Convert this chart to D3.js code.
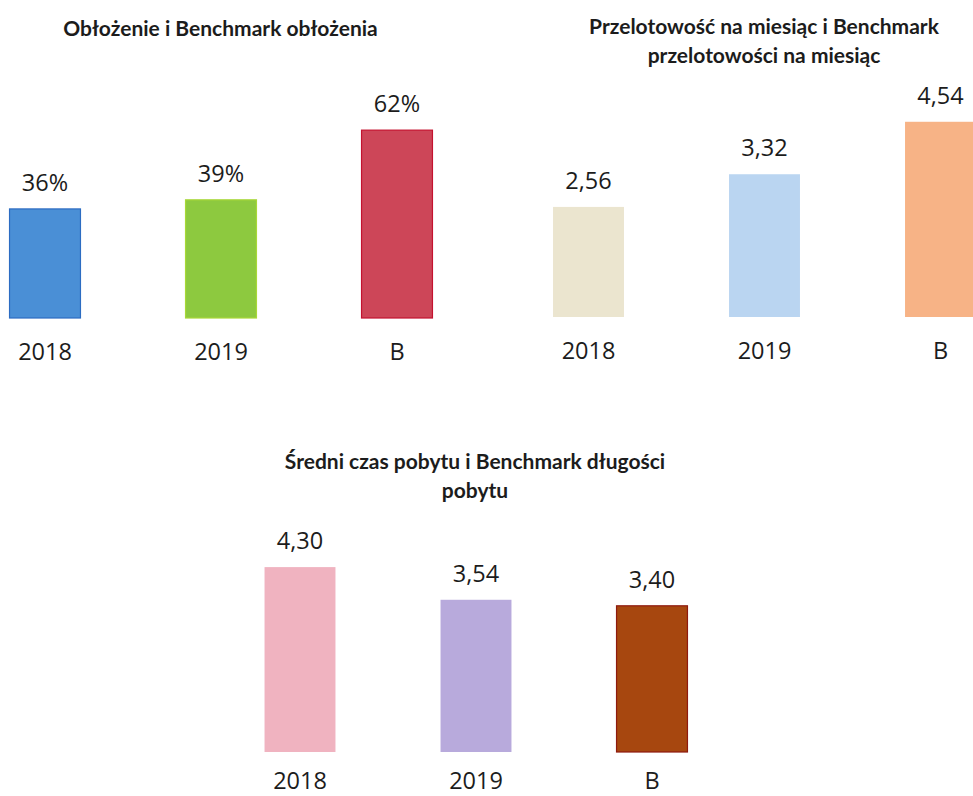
<!DOCTYPE html>
<html lang="pl">
<head>
<meta charset="utf-8">
<title>Obłożenie, przelotowość i czas pobytu</title>
<script src="https://cdn.jsdelivr.net/npm/d3@7"></script>
<style>
  html, body { margin: 0; padding: 0; background: #fff; }
  svg { display: block; }
  .title { font-family: Lato, "Open Sans", sans-serif; font-weight: 700; font-size: 21px; fill: #1c1c1c; }
  .value, .cat { font-family: "Open Sans", "DejaVu Sans", sans-serif; font-size: 23.5px; fill: #1c1c1c; }
</style>
</head>
<body>
<svg id="chart" width="973" height="796"></svg>
<script>
// Categories shared by the three small bar charts
const categories = ["2018", "2019", "B"];

// Obłożenie (%)
const occupancyValues = [36, 39, 62];
// Przelotowość na miesiąc
const throughputValues = [2.56, 3.32, 4.54];
// Średni czas pobytu
const stayValues = [4.30, 3.54, 3.40];

const occupancyTitle = ["Obłożenie i Benchmark obłożenia"];
const throughputTitle = ["Przelotowość na miesiąc i Benchmark", "przelotowości na miesiąc"];
const stayTitle = ["Średni czas pobytu i Benchmark długości", "pobytu"];

const occupancyFills = ["#4a8fd6", "#8dc93f", "#cd4658"];
const occupancyStrokes = ["#2c6cc2", "#a8d838", "#c4122f"];
const throughputFills = ["#ebe5cf", "#bad5f1", "#f7b386"];
const throughputStrokes = ["none", "none", "none"];
const stayFills = ["#f0b3c0", "#b8aadc", "#a7470f"];
const stayStrokes = ["none", "none", "#8e1a0e"];

// Polish number formatting: decimal comma
const pl = d3.formatLocale({ decimal: ",", thousands: " ", grouping: [3], currency: ["", " zł"] });
const fmt2 = pl.format(".2f");
const fmtPct = v => d3.format("d")(v) + "%";

const panels = [
  { values: occupancyValues, fills: occupancyFills, strokes: occupancyStrokes, title: occupancyTitle,
    fmt: fmtPct, xRange: [-43, 485], baseY: 318, yMax: 100, pxPerMax: 303,
    titleX: 220.5, titleY: 36, catGap: 42 },
  { values: throughputValues, fills: throughputFills, strokes: throughputStrokes, title: throughputTitle,
    fmt: fmt2, xRange: [500.5, 1028.5], baseY: 317, yMax: 5, pxPerMax: 215,
    titleX: 764, titleY: 34, catGap: 42 },
  { values: stayValues, fills: stayFills, strokes: stayStrokes, title: stayTitle,
    fmt: fmt2, xRange: [212, 740], baseY: 752, yMax: 5, pxPerMax: 215,
    titleX: 475, titleY: 469, catGap: 37 }
];

const svg = d3.select("#chart");

panels.forEach(p => {
  const x = d3.scaleBand()
    .domain(categories)
    .range(p.xRange)
    .paddingInner(0.597)
    .paddingOuter(0.2985);

  const y = d3.scaleLinear()
    .domain([0, p.yMax])
    .range([p.baseY, p.baseY - p.pxPerMax]);

  const g = svg.append("g");

  // title (one or two centred lines)
  g.append("text")
    .attr("class", "title")
    .attr("text-anchor", "middle")
    .selectAll("tspan")
    .data(p.title)
    .join("tspan")
    .attr("x", p.titleX)
    .attr("y", (d, i) => p.titleY + i * 28.5)
    .text(d => d);

  const rows = categories.map((c, i) => ({ cat: c, value: p.values[i], fill: p.fills[i], stroke: p.strokes[i] }));

  g.selectAll("rect")
    .data(rows)
    .join("rect")
    .attr("x", d => x(d.cat))
    .attr("y", d => y(d.value))
    .attr("width", x.bandwidth())
    .attr("height", d => y(0) - y(d.value))
    .attr("fill", d => d.fill)
    .attr("stroke", d => d.stroke)
    .attr("stroke-width", 1.2);

  // value labels above bars
  g.selectAll("text.value")
    .data(rows)
    .join("text")
    .attr("class", "value")
    .attr("text-anchor", "middle")
    .attr("x", d => x(d.cat) + x.bandwidth() / 2)
    .attr("y", d => y(d.value) - 18)
    .text(d => p.fmt(d.value));

  // category labels below bars
  g.selectAll("text.cat")
    .data(rows)
    .join("text")
    .attr("class", "cat")
    .attr("text-anchor", "middle")
    .attr("x", d => x(d.cat) + x.bandwidth() / 2)
    .attr("y", p.baseY + p.catGap)
    .text(d => d.cat);
});
</script>
</body>
</html>
